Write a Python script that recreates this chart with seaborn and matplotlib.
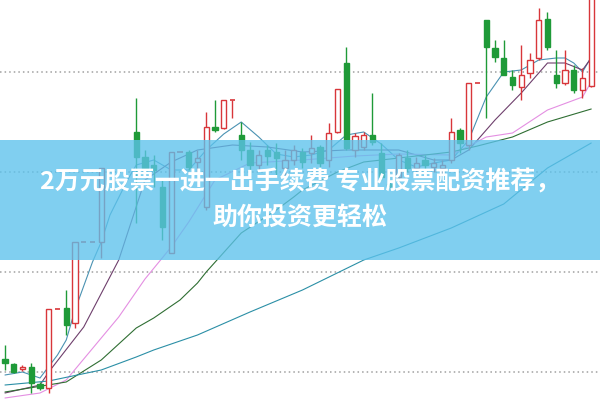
import numpy as np
import pandas as pd
import matplotlib
matplotlib.use('Agg')
import matplotlib.pyplot as plt
import seaborn as sns

sns.set_style('white')
plt.rcParams['font.family'] = ['Noto Sans CJK SC', 'DejaVu Sans']

nan = np.nan

# 日K线 (开, 收, 高, 低), nan = 没有数据
opens = [7.13, 7.08, 7.03, 7.05, 6.88, 6.84, 7.63, 7.64, 7.49, 8.30, 8.30, 8.30, nan, nan, nan,
         9.40, 9.15, 9.07, 8.85, 8.19, 9.20, 9.20, 9.10, 8.65, 9.45, 9.44, 9.72, 9.37, 9.22, 9.07,
         9.22, 9.20, 9.04, 9.12, 9.20, 9.19, 9.25, 9.12, 9.40, 10.09, 9.22, 9.25, 9.37, 9.19, 8.88,
         8.95, 9.14, 9.04, 9.12, 9.05, 9.04, 9.12, 9.42, 9.27, 9.89, 10.52, 10.24, 10.14, 9.95, 9.85,
         9.99, 10.14, 10.53, 9.97, 9.89, 10.02, 9.82, 9.86]
closes = [7.09, 7.00, 7.05, 6.89, 6.84, 7.63, 7.63, 7.47, 8.30, 8.30, 8.30, 9.04, nan, nan, nan,
          9.15, 9.04, 9.02, 8.45, 9.20, 9.20, 9.05, 9.14, 9.45, 9.42, 9.72, 9.72, 9.22, 9.07, 9.17,
          9.16, 9.14, 9.12, 9.22, 9.10, 9.24, 9.09, 9.39, 9.83, 9.24, 9.36, 9.37, 9.30, 8.95, 8.86,
          9.17, 9.04, 9.09, 9.07, 9.09, 9.07, 9.40, 9.29, 9.89, 9.89, 10.25, 10.15, 9.97, 9.87, 9.97,
          10.12, 10.52, 10.25, 9.89, 10.02, 9.82, 9.94, 10.77]
highs = [7.27, 7.09, 7.07, 7.09, 6.90, 7.63, 7.63, 7.82, 8.30, 8.30, 8.30, 9.04, nan, nan, nan,
         9.74, 9.22, 9.17, 8.94, 9.20, 9.20, 9.22, 9.22, 9.60, 9.72, 9.72, 9.72, 9.50, 9.30, 9.22,
         9.27, 9.29, 9.22, 9.27, 9.24, 9.37, 9.27, 9.49, 9.83, 10.25, 9.39, 9.40, 9.79, 9.29, 8.92,
         9.19, 9.22, 9.15, 9.17, 9.14, 9.12, 9.54, 9.44, 9.89, 9.89, 10.52, 10.32, 10.32, 10.02, 10.27,
         10.19, 10.64, 10.60, 10.22, 10.22, 10.07, 10.04, 10.82]
lows = [7.02, 6.99, 7.01, 6.79, 6.82, 6.79, 7.63, 7.37, 7.44, 8.30, 8.30, 8.14, nan, nan, nan,
        8.49, 8.97, 8.85, 8.32, 8.19, 9.20, 9.02, 9.00, 8.62, 9.40, 9.43, 9.54, 9.12, 8.99, 9.02,
        9.07, 8.95, 8.97, 9.07, 9.04, 9.09, 9.05, 9.05, 9.39, 9.22, 9.15, 9.22, 9.27, 8.92, 8.84,
        8.89, 9.00, 8.99, 8.99, 9.00, 8.97, 9.09, 9.19, 9.22, 9.89, 9.54, 10.10, 9.97, 9.82, 9.72,
        9.94, 10.12, 10.22, 9.84, 9.87, 9.79, 9.74, 9.85]

# 均线 (读图的位置, 值)
ma5_idx = [0, 2, 4, 6, 7, 8, 10, 11, 12, 14, 15, 17, 19, 21, 23, 25, 27, 29, 31, 33, 35, 37, 39,
           41, 43, 45, 47, 49, 51, 53, 55, 57, 59, 61, 63, 64, 65, 66, 67]
ma5_val = [6.97, 7.00, 6.94, 7.17, 7.32, 7.62, 8.10, 8.30, 8.57, 8.92, 9.07, 9.12, 9.02, 9.02, 9.22,
           9.38, 9.50, 9.35, 9.18, 9.15, 9.17, 9.22, 9.37, 9.40, 9.28, 9.12, 9.05, 9.09, 9.12, 9.32,
           9.75, 10.00, 10.02, 10.12, 10.14, 10.14, 10.09, 10.00, 10.15]
ma10_idx = [0, 4, 5, 9, 13, 16, 19, 22, 26, 30, 34, 39, 45, 49, 51, 53, 56, 59, 62, 64, 66, 67]
ma10_val = [6.79, 6.87, 7.00, 7.45, 8.12, 8.92, 9.10, 9.22, 9.27, 9.25, 9.20, 9.22, 9.22, 9.12, 9.12,
            9.22, 9.52, 9.79, 10.09, 10.09, 10.02, 10.14]
ma20_idx = [0, 4, 7, 13, 16, 19, 21, 24, 28, 34, 40, 45, 51, 55, 58, 62, 66, 67]
ma20_val = [6.74, 6.79, 6.92, 7.55, 7.93, 8.25, 8.50, 8.92, 9.09, 9.12, 9.16, 9.18, 9.17, 9.35, 9.39,
            9.62, 9.75, 9.90]
ma30_idx = [0, 7, 11, 15, 17, 20, 22, 23, 27, 31, 33, 34, 38, 41, 45, 51, 54, 58, 62, 67]
ma30_val = [6.80, 6.90, 7.12, 7.44, 7.54, 7.72, 7.89, 8.00, 8.39, 8.62, 8.75, 8.82, 9.00, 9.10, 9.14,
            9.20, 9.26, 9.35, 9.50, 9.63]
ma60_idx = [0, 5, 11, 15, 17, 22, 28, 34, 41, 45, 51, 57, 62, 67]
ma60_val = [6.87, 6.91, 7.02, 7.15, 7.22, 7.37, 7.60, 7.82, 8.12, 8.24, 8.44, 8.68, 9.04, 9.29]

grid_levels = [7.0, 8.0, 9.0, 10.0]
title1 = '2万元股票一进一出手续费 专业股票配资推荐，'
title2 = '助你投资更轻松'

df = pd.DataFrame({'open': opens, 'close': closes, 'high': highs, 'low': lows})
df['idx'] = np.arange(len(df))
df = df.dropna()

ma_frames = []
for name, ix, val in [('MA5', ma5_idx, ma5_val), ('MA10', ma10_idx, ma10_val),
                      ('MA20', ma20_idx, ma20_val), ('MA30', ma30_idx, ma30_val),
                      ('MA60', ma60_idx, ma60_val)]:
    ma_frames.append(pd.DataFrame({'idx': ix, 'val': val, 'ma': name}))
ma_df = pd.concat(ma_frames)

red = '#d8363a'
green = '#1f9a38'
ma_colors = {'MA5': '#4a92b2', 'MA10': '#6e3f6c', 'MA20': '#e48fe2', 'MA30': '#2f6e33', 'MA60': '#2b8fa6'}

fig = plt.figure(figsize=(6, 4), dpi=100)
ax = fig.add_axes([0, 0, 1, 1])

for lv in grid_levels:
    ax.axhline(lv, color='#a0a0a0', lw=1.1, ls=(0, (1, 2)), zorder=0)

sns.lineplot(data=ma_df, x='idx', y='val', hue='ma', palette=ma_colors, lw=0.8,
             legend=False, ax=ax, zorder=2, estimator=None, sort=False, units='ma')

# K线
w = 0.62
top = df[['open', 'close']].max(axis=1)
bot = df[['open', 'close']].min(axis=1)
is_up = df['close'] >= df['open']
col = np.where(is_up, red, green)
face = np.where(is_up, 'white', green)
ax.vlines(df['idx'], top, df['high'], colors=col, lw=1, zorder=3)
ax.vlines(df['idx'], df['low'], bot, colors=col, lw=1, zorder=3)
body = (top - bot) > 0
ax.bar(df['idx'][body], (top - bot)[body], bottom=bot[body], width=w,
       color=face[body.values], edgecolor=col[body.values], linewidth=1, zorder=4)
doji = ~body
ax.hlines(df['close'][doji], df['idx'][doji] - w / 2, df['idx'][doji] + w / 2,
          colors=col[doji.values], lw=1.2, zorder=4)

# 广告横幅
ax.axhspan(8.12, 9.32, color='#5cc2ec', alpha=0.78, lw=0, zorder=5)
ax.text(0.5, 0.545, title1, transform=ax.transAxes, ha='center', va='center',
        color='white', fontsize=18, fontweight='bold', zorder=6)
ax.text(0.5, 0.455, title2, transform=ax.transAxes, ha='center', va='center',
        color='white', fontsize=18, fontweight='bold', zorder=6)

ax.set_xlim(-0.57, 68.0)
ax.set_ylim(6.72, 10.72)
ax.set_axis_off()

fig.savefig('out.png', dpi=100)
